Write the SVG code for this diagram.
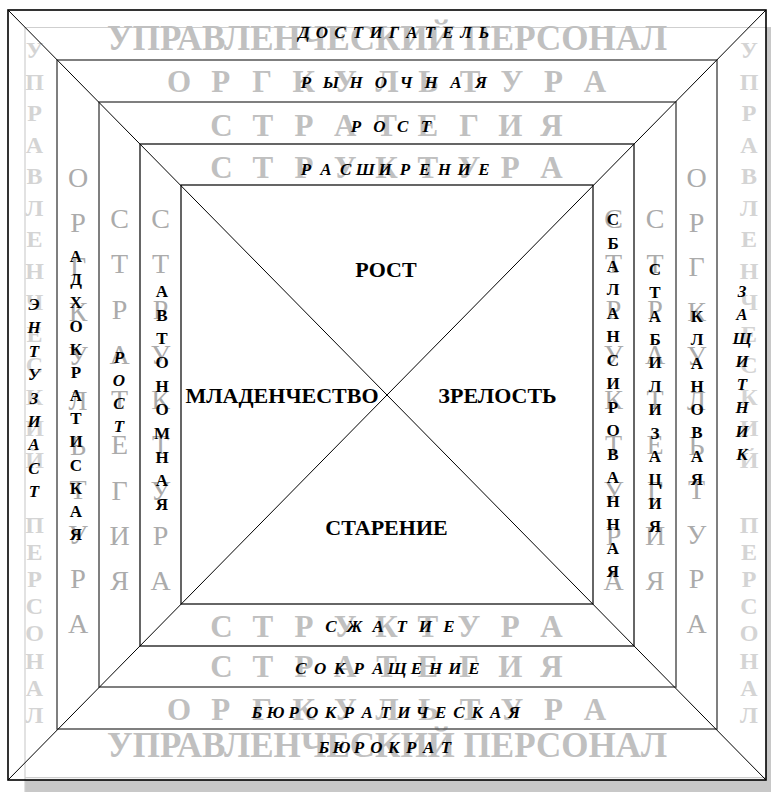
<svg xmlns="http://www.w3.org/2000/svg" width="771" height="792" viewBox="0 0 771 792">
<style>
text{font-family:"Liberation Serif","Times New Roman",serif;}
.g1{font-weight:bold;font-size:35px;fill:#c0c0c0;}
.g2{font-weight:bold;font-size:31px;fill:#c0c0c0;text-anchor:middle;}
.go{font-weight:bold;font-size:24px;fill:#d4d4d4;text-anchor:middle;}
.gv{font-size:28px;fill:#ababab;text-anchor:middle;}
.bk{font-weight:bold;font-size:17px;fill:#000;text-anchor:middle;}
.it{font-style:italic;}
.ct{font-weight:bold;font-size:22px;fill:#000;text-anchor:middle;}
.frame{fill:none;stroke:#555;stroke-width:1.5;}
.frame2{fill:none;stroke:#000;stroke-width:1.2;}
.diag{stroke:#000;stroke-width:1;fill:none;}
</style>
<rect x="25" y="27" width="760" height="780" fill="#c8c8c8"/>
<rect x="8" y="10" width="758" height="770" fill="#fff"/>
<path d="M25,792 V27.5 H766 M25,777.7 H766" fill="none" stroke="#cfcfcf" stroke-width="1.2"/>

<g id="band-personnel">
<text class="g1" x="107" y="50" textLength="560" lengthAdjust="spacingAndGlyphs">УПРАВЛЕНЧЕСКИЙ ПЕРСОНАЛ</text>
<text class="g1" x="107" y="757" textLength="560" lengthAdjust="spacingAndGlyphs">УПРАВЛЕНЧЕСКИЙ ПЕРСОНАЛ</text>
<text class="go" x="34.5 34.5 34.5 34.5 34.5 34.5 34.5 34.5 34.5 34.5 34.5 34.5 34.5 34.5" y="58 89.5 121 152.5 184 215.5 247 278.5 310 341.5 373 404.5 436 467.5">УПРАВЛЕНЧЕСКИЙ</text>
<text class="go" x="34.5 34.5 34.5 34.5 34.5 34.5 34.5 34.5" y="533 560 587 614 641 668.5 695.5 722.5">ПЕРСОНАЛ</text>
<text class="go" x="749 749 749 749 749 749 749 749 749 749 749 749 749 749" y="58 89.5 121 152.5 184 215.5 247 278.5 310 341.5 373 404.5 436 467.5">УПРАВЛЕНЧЕСКИЙ</text>
<text class="go" x="749 749 749 749 749 749 749 749" y="533 560 587 614 641 668.5 695.5 722.5">ПЕРСОНАЛ</text>
</g>

<g id="band-culture">
<text class="g2" x="179 220.6 262.2 303.8 345.4 387 428.6 470.2 511.8 553.4 595" y="92">ОРГКУЛЬТУРА</text>
<text class="g2" x="179 220.6 262.2 303.8 345.4 387 428.6 470.2 511.8 553.4 595" y="720">ОРГКУЛЬТУРА</text>
<text class="gv" x="78 78 78 78 78 78 78 78 78 78 78" y="187 231.6 276.2 320.8 365.4 410 454.6 499.2 543.8 588.4 633">ОРГКУЛЬТУРА</text>
<text class="gv" x="696.5 696.5 696.5 696.5 696.5 696.5 696.5 696.5 696.5 696.5 696.5" y="187 231.6 276.2 320.8 365.4 410 454.6 499.2 543.8 588.4 633">ОРГКУЛЬТУРА</text>
</g>

<g id="band-strategy">
<text class="g2" x="221.5 262.75 304 345.25 386.5 427.75 469 510.25 551.5" y="136">СТРАТЕГИЯ</text>
<text class="g2" x="221.5 262.75 304 345.25 386.5 427.75 469 510.25 551.5" y="677">СТРАТЕГИЯ</text>
<text class="gv" x="119.5 119.5 119.5 119.5 119.5 119.5 119.5 119.5 119.5" y="228 273.25 318.5 363.75 409 454.25 499.5 544.75 590">СТРАТЕГИЯ</text>
<text class="gv" x="655 655 655 655 655 655 655 655 655" y="228 273.25 318.5 363.75 409 454.25 499.5 544.75 590">СТРАТЕГИЯ</text>
</g>

<g id="band-structure">
<text class="g2" x="221.5 262.75 304 345.25 386.5 427.75 469 510.25 551.5" y="178">СТРУКТУРА</text>
<text class="g2" x="221.5 262.75 304 345.25 386.5 427.75 469 510.25 551.5" y="637">СТРУКТУРА</text>
<text class="gv" x="160.5 160.5 160.5 160.5 160.5 160.5 160.5 160.5 160.5" y="228 273.25 318.5 363.75 409 454.25 499.5 544.75 590">СТРУКТУРА</text>
<text class="gv" x="613.5 613.5 613.5 613.5 613.5 613.5 613.5 613.5 613.5" y="228 273.25 318.5 363.75 409 454.25 499.5 544.75 590">СТРУКТУРА</text>
</g>

<g id="frames">
<rect x="8" y="10" width="758" height="770" fill="none" stroke="#000" stroke-width="1.6"/>
<rect class="frame" x="57" y="60" width="660" height="669"/>
<rect class="frame" x="99" y="102" width="577" height="585"/>
<rect class="frame2" x="140" y="144" width="494" height="502"/>
<rect class="frame2" x="181" y="185" width="412" height="419"/>
</g>

<g id="connectors">
<line class="diag" x1="8" y1="10" x2="766" y2="780"/>
<line class="diag" x1="766" y1="10" x2="8" y2="780"/>
</g>

<g id="top-labels">
<text class="bk it" x="304 322 340 358 376 394 412 430 448 466 484" y="38">ДОСТИГАТЕЛЬ</text>
<text class="bk it" x="306 331 356 381 406 431 456 481" y="88">РЫНОЧНАЯ</text>
<text class="bk it" x="356 379.3 402.7 426" y="132">РОСТ</text>
<text class="bk it" x="306 325.8 345.6 365.3 385.1 404.9 424.7 444.4 464.2 484" y="175">РАСШИРЕНИЕ</text>
</g>

<g id="bottom-labels">
<text class="bk it" x="331 354.6 378.2 401.8 425.4 449" y="632">СЖАТИЕ</text>
<text class="bk it" x="301 320.2 339.4 358.7 377.9 397.1 416.3 435.6 454.8 474" y="674">СОКРАЩЕНИЕ</text>
<text class="bk it" x="257 275.4 293.7 312.1 330.4 348.8 367.2 385.5 403.9 422.2 440.6 459 477.3 495.7 514" y="718">БЮРОКРАТИЧЕСКАЯ</text>
<text class="bk it" x="324 341.4 358.9 376.3 393.7 411.1 428.6 446" y="753">БЮРОКРАТ</text>
</g>

<g id="left-labels">
<text class="bk it" x="34 34 34 34 34 34 34 34 34" y="310 333.4 356.8 380.2 403.6 427 450.4 473.8 497.2">ЭНТУЗИАСТ</text>
<text class="bk" x="76 76 76 76 76 76 76 76 76 76 76 76 76" y="262 285.2 308.3 331.5 354.7 377.8 401 424.2 447.4 470.5 493.7 516.9 540">АДХОКРАТИСКАЯ</text>
<text class="bk it" x="119 119 119 119" y="363 386 409 432">РОСТ</text>
<text class="bk" x="162 162 162 162 162 162 162 162 162 162" y="297 320.7 344.3 368 391.7 415.3 439 462.7 486.3 510">АВТОНОМНАЯ</text>
</g>

<g id="right-labels">
<text class="bk" x="613 613 613 613 613 613 613 613 613 613 613 613 613 613 613 613" y="225 248.5 271.9 295.4 318.9 342.4 365.8 389.3 412.8 436.2 459.7 483.2 506.6 530.1 553.6 577">СБАЛАНСИРОВАННАЯ</text>
<text class="bk" x="655 655 655 655 655 655 655 655 655 655 655 655" y="275 298.4 321.7 345.1 368.4 391.8 415.2 438.5 461.9 485.2 508.6 532">СТАБИЛИЗАЦИЯ</text>
<text class="bk" x="697 697 697 697 697 697 697 697" y="322 345.3 368.6 391.9 415.1 438.4 461.7 485">КЛАНОВАЯ</text>
<text class="bk it" x="742 742 742 742 742 742 742 742" y="297 320.3 343.6 366.9 390.1 413.4 436.7 460">ЗАЩИТНИК</text>
</g>

<g id="center">
<text class="ct" x="386" y="277">РОСТ</text>
<text class="ct" x="282" y="403">МЛАДЕНЧЕСТВО</text>
<text class="ct" x="497.5" y="403">ЗРЕЛОСТЬ</text>
<text class="ct" x="386.5" y="535">СТАРЕНИЕ</text>
</g>
</svg>
